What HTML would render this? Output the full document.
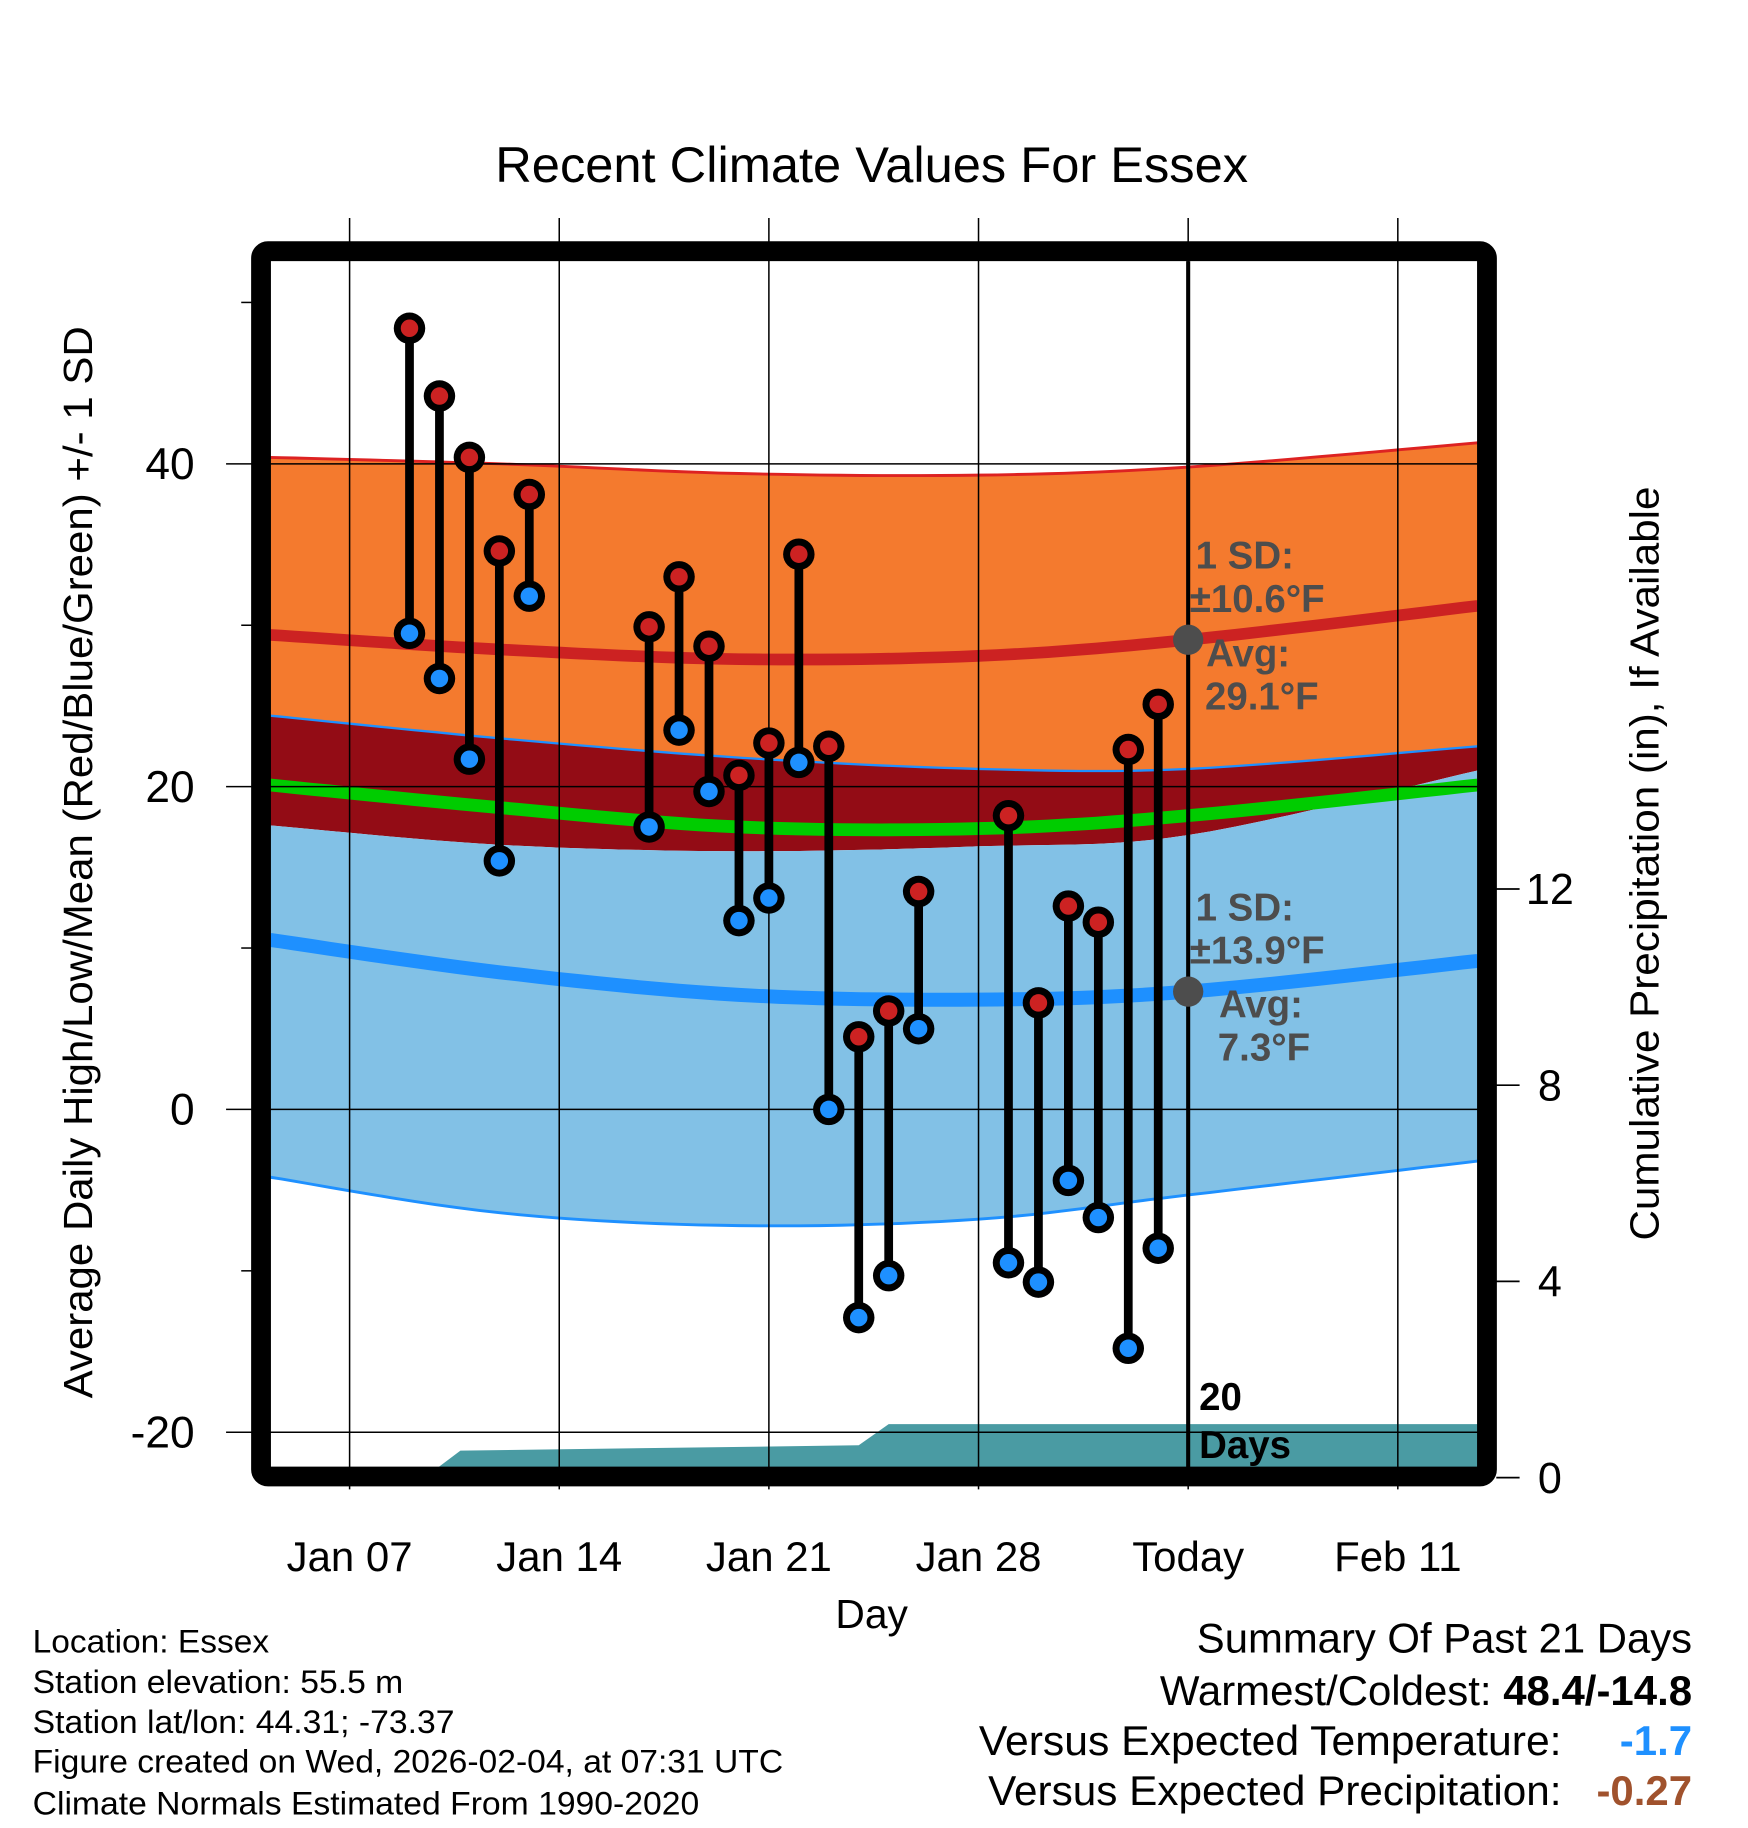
<!DOCTYPE html>
<html><head><meta charset="utf-8"><style>
html,body{margin:0;padding:0;background:#fff}
svg{display:block}
text{font-family:"Liberation Sans",Arial,sans-serif}
</style></head><body>
<svg id="chart" width="1748" height="1828" viewBox="0 0 1500 1568.6" xmlns="http://www.w3.org/2000/svg">
<text x="748" y="156" font-size="43" text-anchor="middle" textLength="646" lengthAdjust="spacingAndGlyphs">Recent Climate Values For Essex</text>
<g id="plot"></g>
<text transform="translate(79,740) rotate(-90)" font-size="35" text-anchor="middle" textLength="920" lengthAdjust="spacingAndGlyphs">Average Daily High/Low/Mean (Red/Blue/Green) +/- 1 SD</text>
<text transform="translate(1423,741) rotate(-90)" font-size="35" text-anchor="middle" textLength="647" lengthAdjust="spacingAndGlyphs">Cumulative Precipitation (in), If Available</text>
<text x="748" y="1397" font-size="35" text-anchor="middle">Day</text>
<g font-size="28">
<text x="28" y="1418" textLength="203" lengthAdjust="spacingAndGlyphs">Location: Essex</text>
<text x="28" y="1453" textLength="318" lengthAdjust="spacingAndGlyphs">Station elevation: 55.5 m</text>
<text x="28" y="1487" textLength="362" lengthAdjust="spacingAndGlyphs">Station lat/lon: 44.31; -73.37</text>
<text x="28" y="1521" textLength="644" lengthAdjust="spacingAndGlyphs">Figure created on Wed, 2026-02-04, at 07:31 UTC</text>
<text x="28" y="1557" textLength="572" lengthAdjust="spacingAndGlyphs">Climate Normals Estimated From 1990-2020</text>
</g>
<g font-size="36">
<text x="1452" y="1418" text-anchor="end" textLength="425" lengthAdjust="spacingAndGlyphs">Summary Of Past 21 Days</text>
<text x="1452" y="1463" text-anchor="end">Warmest/Coldest: <tspan font-weight="bold">48.4/-14.8</tspan></text>
<text x="1340" y="1506" text-anchor="end" textLength="500" lengthAdjust="spacingAndGlyphs">Versus Expected Temperature:</text>
<text x="1452" y="1506" text-anchor="end" font-weight="bold" fill="#1e90ff">-1.7</text>
<text x="1340" y="1549" text-anchor="end" textLength="492" lengthAdjust="spacingAndGlyphs">Versus Expected Precipitation:</text>
<text x="1452" y="1549" text-anchor="end" font-weight="bold" fill="#a0522d">-0.27</text>
</g>
</svg>
<script>
const NS="http://www.w3.org/2000/svg";
// ---- data ----
const obsDays=[9,10,11,12,13,17,18,19,20,21,22,23,24,25,26,29,30,31,32,33,34];
const highs=[48.4,44.2,40.4,34.6,38.1,29.9,33.0,28.7,20.7,22.7,34.4,22.5,4.5,6.1,13.5,18.2,6.6,12.6,11.6,22.3,25.1];
const lows=[29.5,26.7,21.7,15.4,31.8,17.5,23.5,19.7,11.7,13.1,21.5,0,-12.9,-10.3,5.0,-9.5,-10.7,-4.4,-6.7,-14.8,-8.6];
const normDays=[4.35,12,20,28,35,44.66];
const highUp=[40.4,40.0,39.4,39.3,39.8,41.3];
const highMean=[29.4,28.5,27.9,28.1,29.1,31.2];
const highLo=[24.4,23.0,21.8,21.1,21.1,22.5];
const avgMean=[20.1,18.7,17.5,17.4,18.2,20.1];
const lowUp=[17.6,16.4,16.0,16.3,17.0,21.0];
const lowMean=[10.5,8.5,7.1,6.8,7.3,9.2];
const lowLo=[-4.2,-6.4,-7.2,-6.8,-5.3,-3.2];
const precipDays=[4.35,9.5,10.7,24,25,44.66];
const precipVals=[0,0,0.55,0.66,1.09,1.09];
const xTickDays=[7,14,21,28,35,42];
const xTickLabels=["Jan 07","Jan 14","Jan 21","Jan 28","Today","Feb 11"];
const yTicks=[-20,0,20,40];
const yMinor=[-10,10,30,50];
const y2Ticks=[0,4,8,12];
const todayDay=35;
// ---- scales ----
const X=d=>300+(d-7)*25.7;
const Y=t=>952-t*13.85;
const Y2=p=>1268-p*42.1;
const L=232,R=1268,T=224,B=1259;
const g=document.getElementById('plot');
function mk(tag,attrs,parent){const e=document.createElementNS(NS,tag);for(const k in attrs)e.setAttribute(k,attrs[k]);(parent||g).appendChild(e);return e;}
// smooth (catmull-rom) sampled points
function smooth(days,vals){const P=days.map((d,i)=>[X(d),Y(vals[i])]);const out=[];
for(let i=0;i<P.length-1;i++){const p0=P[Math.max(0,i-1)],p1=P[i],p2=P[i+1],p3=P[Math.min(P.length-1,i+2)];
for(let k=0;k<12;k++){const t=k/12,t2=t*t,t3=t2*t;
const f=(a,b,c,d)=>0.5*(2*b+(-a+c)*t+(2*a-5*b+4*c-d)*t2+(-a+3*b-3*c+d)*t3);
out.push(f(p0[0],p1[0],p2[0],p3[0]).toFixed(1)+','+f(p0[1],p1[1],p2[1],p3[1]).toFixed(1));}}
const l=P[P.length-1];out.push(l[0].toFixed(1)+','+l[1].toFixed(1));return out;}
function band(up,lo,fill,name){const p=smooth(normDays,up).concat(smooth(normDays,lo).reverse());const e=mk('polygon',{points:p.join(' '),fill:fill});

}
function line(vals,stroke,w,name){const e=mk('polyline',{points:smooth(normDays,vals).join(' '),fill:'none',stroke:stroke,'stroke-width':w});

}
band(highUp,highLo,'#f47a2e','high-sd-band');
band(highLo,lowUp,'#930c15','overlap-band');
band(lowUp,lowLo,'#82c1e6','low-sd-band');
line(highUp,'#d22','2.5','high-upper-edge');
line(highLo,'#1e90ff','2','high-lower-edge');
line(lowLo,'#1e90ff','2.5','low-lower-edge');
line(avgMean,'#00cc00','11','mean-normal-line');
line(highMean,'#cc2222','10','high-normal-line');
line(lowMean,'#1e90ff','12','low-normal-line');
// precip
{const p=precipDays.map((d,i)=>X(d).toFixed(1)+','+Y2(precipVals[i]).toFixed(1));p.push(X(precipDays[precipDays.length-1])+','+B,L+','+B);
const e=mk('polygon',{points:p.join(' '),fill:'#4a9ba3'});

}
// grid + ticks
xTickDays.forEach((d,i)=>{const e=mk('line',{x1:X(d),x2:X(d),y1:187,y2:1278,stroke:'#000','stroke-width':1.3});


const t=mk('text',{x:X(d),y:1348,'font-size':36,'text-anchor':'middle'});t.textContent=xTickLabels[i];

});
yTicks.forEach(v=>{const e=mk('line',{x1:194,x2:R,y1:Y(v),y2:Y(v),stroke:'#000','stroke-width':1.3});


const t=mk('text',{x:167,y:Y(v)+13,'font-size':38,'text-anchor':'end'});t.textContent=v;

});
yMinor.forEach(v=>{const e=mk('line',{x1:207,x2:216,y1:Y(v),y2:Y(v),stroke:'#000','stroke-width':1.3});

});
y2Ticks.forEach(v=>{const e=mk('line',{x1:1284,x2:1304,y1:Y2(v),y2:Y2(v),stroke:'#000','stroke-width':1.5});


const t=mk('text',{x:1330,y:Y2(v)+13,'font-size':37,'text-anchor':'middle'});t.textContent=v;

});
// today line
{const e=mk('line',{x1:X(todayDay),x2:X(todayDay),y1:T,y2:B,stroke:'#000','stroke-width':3.5});

}
// observations
obsDays.forEach((d,i)=>{const x=X(d);
const s=mk('line',{x1:x,x2:x,y1:Y(highs[i]),y2:Y(lows[i]),stroke:'#000','stroke-width':7.5});


[[highs[i],'#cc2222','high-point'],[lows[i],'#1e90ff','low-point']].forEach(([v,c,n])=>{
const o=mk('circle',{cx:x,cy:Y(v),r:13.5,fill:'#000'});


const c2=mk('circle',{cx:x,cy:Y(v),r:7.5,fill:c});

});});
// annotations
const todayHigh=highMean[4],todayLow=lowMean[4];
[[todayHigh,'today-high-normal-dot'],[todayLow,'today-low-normal-dot']].forEach(([v,n])=>{const c=mk('circle',{cx:X(todayDay),cy:Y(v),r:13,fill:'#4d4d4d'});

});
function lbl(x,y,s,name,fill){const t=mk('text',{x:x,y:y,'font-size':33,'font-weight':'bold',fill:fill||'#4d4d4d'});t.textContent=s;

}
lbl(1026,488,'1 SD:','high-sd-label');lbl(1021,525,'±10.6°F','high-sd-value');
lbl(1035,572,'Avg:','high-avg-label');lbl(1034,609,'29.1°F','high-avg-value');
lbl(1026,790,'1 SD:','low-sd-label');lbl(1021,827,'±13.9°F','low-sd-value');
lbl(1046,873,'Avg:','low-avg-label');lbl(1045,910,'7.3°F','low-avg-value');
lbl(1029,1210,'20','days-count','#000');lbl(1029,1251,'Days','days-label','#000');
// frame
{const f=mk('rect',{x:224,y:215.5,width:1052,height:1051.5,rx:6,fill:'none',stroke:'#000','stroke-width':17});

}
</script>
</body></html>
